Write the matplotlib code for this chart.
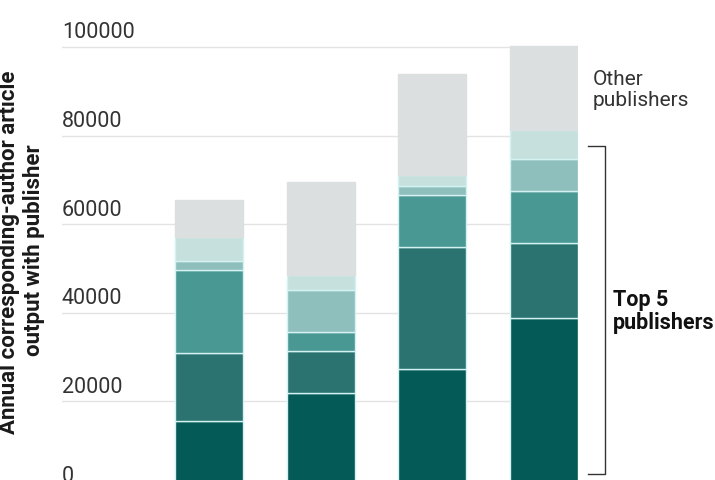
import matplotlib
matplotlib.use("Agg")
import matplotlib.pyplot as plt
import matplotlib.transforms as mtransforms
import numpy as np
from matplotlib import font_manager

groups = ["A", "B", "C", "D"]
pub1 = [15600, 21800, 27300, 38800]
pub2 = [15300, 9600, 27600, 16900]
pub3 = [18800, 4200, 11700, 11700]
pub4 = [2000, 9500, 2100, 7400]
pub5 = [5300, 3400, 2400, 6500]
other = [8500, 21000, 22900, 18900]
yticks = [0, 20000, 40000, 60000, 80000, 100000]

series = [pub1, pub2, pub3, pub4, pub5, other]
colors = ["#045a56", "#2a7371", "#4a9894", "#8fbfbd", "#c6e0de", "#dcdfe0"]
edges = ["#d4f2f2"] * 5 + ["#dcdfe0"]

names = {f.name for f in font_manager.fontManager.ttflist}
font = "Roboto" if "Roboto" in names else "DejaVu Sans"

fig = plt.figure(figsize=(7.15, 4.8), dpi=100)
ax = fig.add_axes([62/715, -10/480, 516/715, 465.2/480])

x = np.arange(len(groups))
bottom = np.zeros(len(groups))
for vals, c, e in zip(series, colors, edges):
    ax.bar(x, vals, bottom=bottom, width=0.607, color=c,
           edgecolor=e, linewidth=1.0, zorder=2)
    bottom += np.array(vals)

ax.set_xlim(-1.316, 3.304)
ax.set_ylim(0, 105000)
for s in ax.spines.values():
    s.set_visible(False)
ax.set_xticks([])
ax.set_yticks([])
for t in yticks:
    ax.axhline(t, color="#e3e3e3", linewidth=1.0, zorder=1)
    ax.annotate(f"{t}", xy=(0, t), xycoords=("axes fraction", "data"),
                xytext=(0, 2.5), textcoords="offset points",
                ha="left", va="bottom", fontsize=15.5, color="#333333",
                family=font, fontweight="normal")

fig.text(9/715, 1 - 252/480, "Annual corresponding-author article",
         rotation=90, ha="center", va="center", fontsize=16,
         fontweight="bold", color="#1a1a1a", family=font)
fig.text(34/715, 1 - 250/480, "output with publisher",
         rotation=90, ha="center", va="center", fontsize=16,
         fontweight="bold", color="#1a1a1a", family=font)

trans = mtransforms.blended_transform_factory(ax.transAxes, ax.transData)
x0, x1 = (588 - 62) / 516, (605 - 62) / 516
ytop, ybot = 77600, 3600
ax.plot([x0, x1, x1, x0], [ytop, ytop, ybot, ybot], transform=trans,
        color="#333333", linewidth=1.0, clip_on=False)

ax.text((593 - 62) / 516, 90300, "Other\npublishers", transform=trans,
        ha="left", va="center", fontsize=15, color="#333333",
        family=font, fontweight="normal", linespacing=1.1)
ax.text((613 - 62) / 516, 40300, "Top 5\npublishers", transform=trans,
        ha="left", va="center", fontsize=15.5, color="#111111",
        family=font, fontweight="bold", linespacing=1.05)

fig.savefig("out.png", dpi=100)
